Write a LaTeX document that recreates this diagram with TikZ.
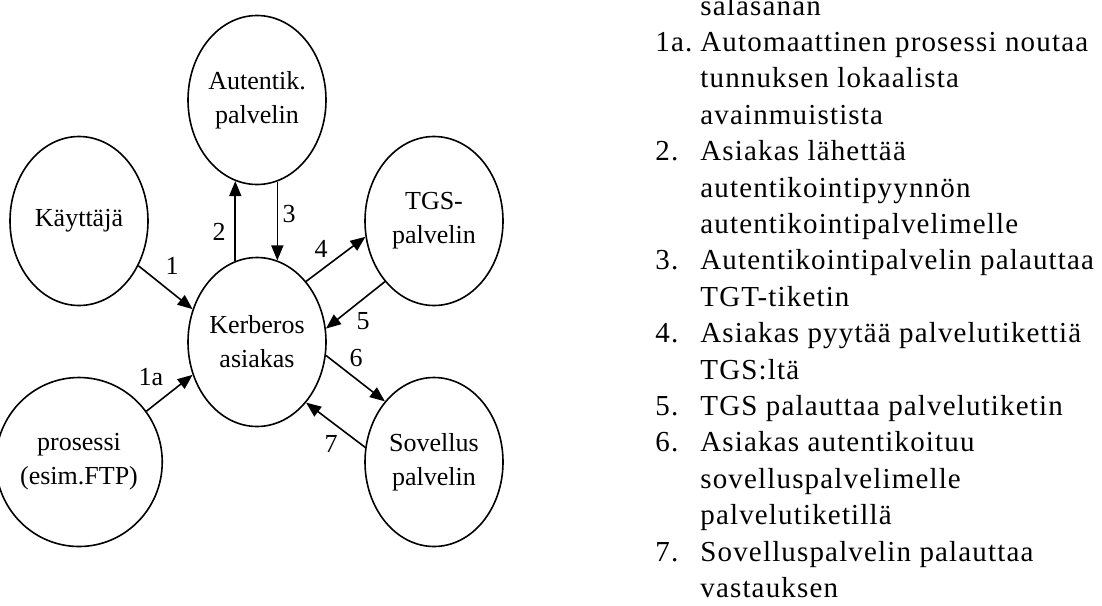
\documentclass[tikz,border=0pt]{standalone}
\usepackage{fontspec}
\setmainfont{Liberation Serif}
\newfontfamily\stepfont[LetterSpace=4]{Liberation Serif}
\usetikzlibrary{shapes.geometric,arrows.meta}

\tikzset{
  party/.style={draw, line width=0.8pt, ellipse, inner sep=0pt,
    minimum width=69pt, minimum height=84.5pt, align=center,
    font=\fontsize{13pt}{17pt}\selectfont},
  flow/.style={line width=0.8pt, -{Triangle[length=7.5pt,width=6pt]}},
  steplabel/.style={inner sep=0pt, font=\fontsize{13pt}{17pt}\selectfont}
}

\begin{document}
\begin{tikzpicture}[x=0.5pt,y=-0.5pt]
  \useasboundingbox (0,0) rectangle (1102,605);
  \clip (0,0) rectangle (1102,605);
  \fill[white] (0,0) rectangle (1102,605);

  % parties
  \node[party] (aut) at (257,100) {Autentik.\\palvelin};
  \node[party] (kay) at (79,221) {Käyttäjä};
  \node[party] (tgs) at (434,221) {TGS-\\palvelin};
  \node[party] (ker) at (257,342) {Kerberos\\asiakas};
  \node[party] (pro) at (79,462) {prosessi\\(esim.FTP)};
  \node[party] (sov) at (434,462) {Sovellus\\palvelin};

  % message flow
  \draw[flow] (kay.323) -- (ker.153);
  \draw[flow] (pro.37) -- (ker.207);
  \draw[flow] (ker.105) -- (ker.105 |- aut.255);
  \draw[flow] (aut.284) -- (aut.284 |- ker.76);
  \draw[flow] (ker.51) -- (tgs.193);
  \draw[flow] (tgs.231) -- (ker.11);
  \draw[flow] (ker.349) -- (sov.129);
  \draw[flow] (sov.168) -- (ker.309);

  % step numbers
  \node[steplabel] (l1)  at (172,266) {1};
  \node[steplabel] (l1a) at (151,377) {1a};
  \node[steplabel] (l2)  at (219,232) {2};
  \node[steplabel] (l3)  at (289,214) {3};
  \node[steplabel] (l4)  at (321,249) {4};
  \node[steplabel] (l5)  at (363,321) {5};
  \node[steplabel] (l6)  at (356,358) {6};
  \node[steplabel] (l7)  at (331,444) {7};

  % step descriptions
  \node[anchor=base west, inner sep=0pt,
        font=\stepfont\fontsize{14.5pt}{18.2pt}\selectfont] (steps) at (655,15) {%
    \begin{tabular}[t]{@{}p{22.5pt}@{}l@{}}
       & salasanan\\
    1a. & Automaattinen prosessi noutaa\\
       & tunnuksen lokaalista\\
       & avainmuistista\\
    2. & Asiakas lähettää\\
       & autentikointipyynnön\\
       & autentikointipalvelimelle\\
    3. & Autentikointipalvelin palauttaa\\
       & TGT-tiketin\\
    4. & Asiakas pyytää palvelutikettiä\\
       & TGS:ltä\\
    5. & TGS palauttaa palvelutiketin\\
    6. & Asiakas autentikoituu\\
       & sovelluspalvelimelle\\
       & palvelutiketillä\\
    7. & Sovelluspalvelin palauttaa\\
       & vastauksen
    \end{tabular}};
\end{tikzpicture}
\end{document}
